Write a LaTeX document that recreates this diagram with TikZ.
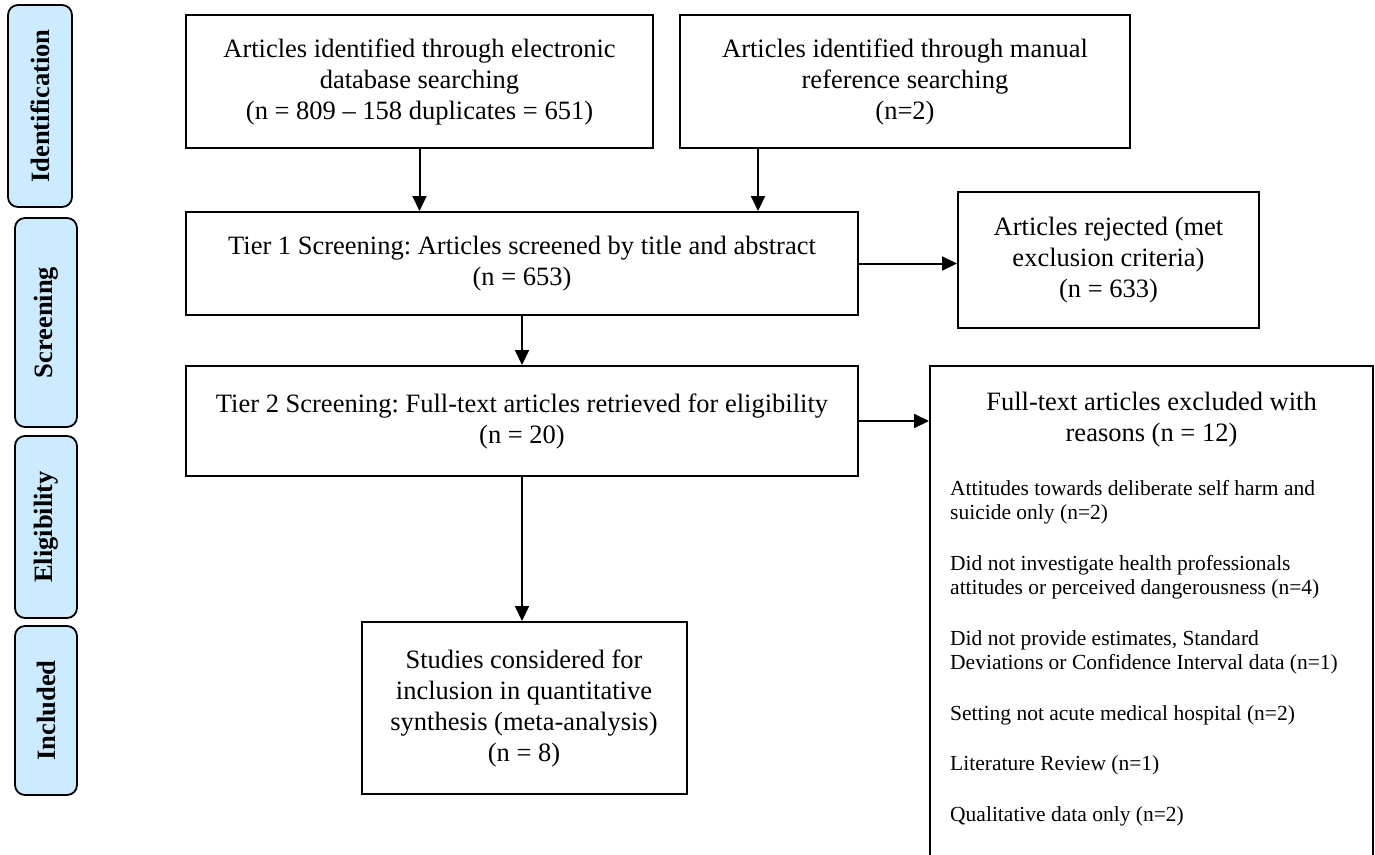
\documentclass[tikz,border=0pt]{standalone}
\usepackage{fontspec}
\setmainfont{Liberation Serif}
\frenchspacing
\usetikzlibrary{positioning,arrows.meta,calc}
\definecolor{stageBlue}{RGB}{205,235,255}

\begin{document}
\begin{tikzpicture}[x=1pt,y=-1pt,
  box/.style={
    draw=black, line width=2pt, inner sep=0pt, align=center,
    font=\fontsize{26.5}{31}\selectfont
  },
  stage/.style={
    draw=black, line width=1.8pt, fill=stageBlue, rounded corners=10pt,
    inner sep=0pt, rotate=90, font=\fontsize{26.5}{31}\selectfont\bfseries
  },
  note/.style={inner sep=0pt, align=left, font=\fontsize{21.5}{24.5}\selectfont},
  arr/.style={-{Triangle[length=15pt,width=14pt]},line width=2pt}
]
\useasboundingbox (0,0) rectangle (1375,854);

\node[stage, minimum width=202pt, minimum height=64pt] (identstage) at (40,106)
  {Identification};
\node[stage, minimum width=209pt, minimum height=62pt] (screenstage) at (46,322.5)
  {Screening};
\node[stage, minimum width=182pt, minimum height=62pt] (eligstage) at (46,527)
  {Eligibility};
\node[stage, minimum width=169pt, minimum height=62pt] (inclstage) at (46,710.5)
  {Included};

\node[box, minimum width=467pt, minimum height=133pt] (dbsearch) at (419.5,81.5)
  {Articles identified through electronic\\database searching\\(n = 809 – 158 duplicates = 651)};
\node[box, minimum width=450pt, minimum height=133pt] (handsearch) at (905,81.5)
  {Articles identified through manual\\reference searching\\(n=2)};
\node[box, minimum width=672pt, minimum height=103pt] (tierone) at (522,263.5)
  {Tier 1 Screening: Articles screened by title and abstract\\(n = 653)};
\node[box, minimum width=301pt, minimum height=136pt] (rejected) at (1108.5,260)
  {Articles rejected (met\\exclusion criteria)\\(n = 633)};
\node[box, minimum width=672pt, minimum height=110pt] (tiertwo) at (522,421)
  {Tier 2 Screening: Full-text articles retrieved for eligibility\\(n = 20)};
\node[box, minimum width=443pt, minimum height=500pt] (excluded) at (1151.5,616) {};
\node[box, minimum width=325pt, minimum height=172pt] (included) at (524,708)
  {Studies considered for\\inclusion in quantitative\\synthesis (meta-analysis)\\(n = 8)};

\node[box, draw=none, anchor=north] (exctitle) at ([yshift=-26pt]excluded.north)
  {Full-text articles excluded with\\reasons (n = 12)};
\node[note, anchor=north west] (reasons) at (950,480)
  {Attitudes towards deliberate self harm and\\suicide only (n=2)\\[26pt]
   Did not investigate health professionals\\attitudes or perceived dangerousness (n=4)\\[26pt]
   Did not provide estimates, Standard\\Deviations or Confidence Interval data (n=1)\\[26pt]
   Setting not acute medical hospital (n=2)\\[26pt]
   Literature Review (n=1)\\[26pt]
   Qualitative data only (n=2)};

\coordinate (handdrop) at ([xshift=79pt]handsearch.south west);

\draw[arr] (dbsearch.south) -- (dbsearch.south |- tierone.north);
\draw[arr] (handdrop) -- (handdrop |- tierone.north);
\draw[arr] (tierone.east) -- (tierone.east -| rejected.west);
\draw[arr] (tierone.south) -- (tiertwo.north);
\draw[arr] (tiertwo.east) -- (tiertwo.east -| excluded.west);
\draw[arr] (tiertwo.south) -- (tiertwo.south |- included.north);

\end{tikzpicture}
\end{document}
